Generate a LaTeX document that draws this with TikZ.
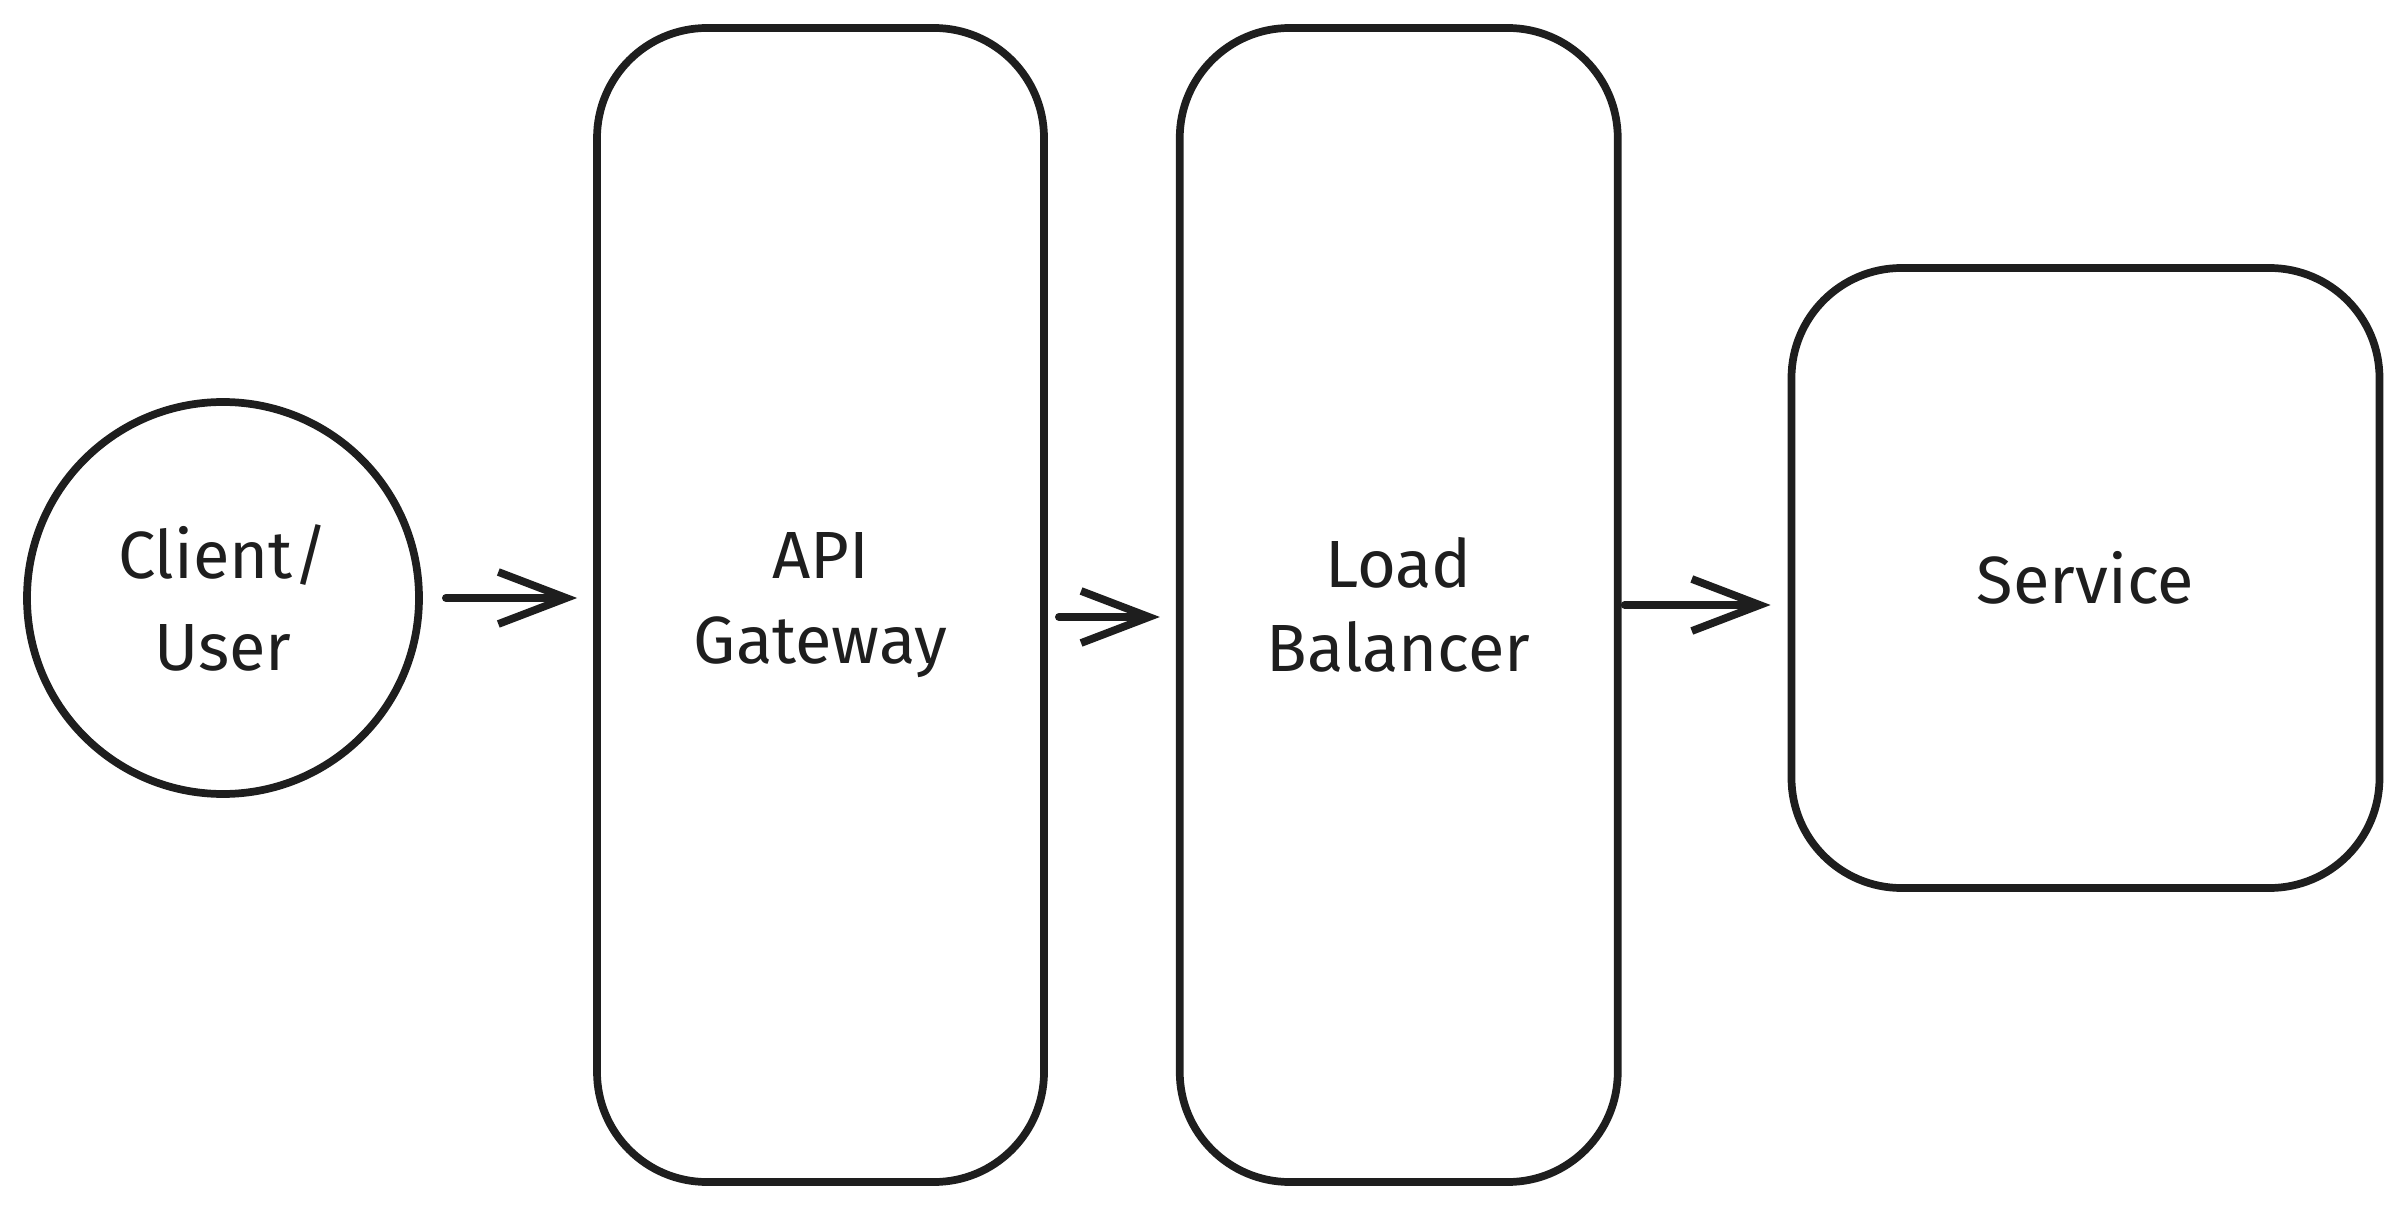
\documentclass[tikz,border=0pt]{standalone}
\usepackage{fontspec}
\setmainfont{Fira Sans}
\usetikzlibrary{shapes.geometric, arrows.meta, positioning}
\definecolor{ink}{HTML}{1E1E1E}
\tikzstyle{component} = [rectangle, rounded corners=1.1cm, draw=ink, line width=2.2pt, text centered, align=center, text=ink, font=\fontsize{19}{24}\selectfont]
\tikzstyle{endpoint} = [circle, minimum size=3.92cm, draw=ink, line width=2.2pt, text centered, align=center, text=ink, font=\fontsize{19}{26}\selectfont]
\tikzstyle{connector} = [draw=ink, line width=2.2pt, line cap=round, line join=round, -{Straight Barb[length=0.68cm, width=0.52cm]}]

\begin{document}
\begin{tikzpicture}[node distance=1.3cm]
        \useasboundingbox (0,0) rectangle (24,-12.13);
        \node (client) [endpoint] at (2.23,-5.98) {Client/\\User};
        \node (gateway) [component, minimum width=4.47cm, minimum height=11.54cm] at (8.205,-6.05) {API\\Gateway};
        \node (balancer) [component, minimum width=4.38cm, minimum height=11.54cm, right=1.28cm of gateway] {Load\\Balancer};
        \node (service) [component, minimum width=5.88cm, minimum height=6.2cm, right=1.66cm of balancer, yshift=0.27cm] {Service};
    
        \draw [connector, shorten <=0.23cm, shorten >=0.16cm] (client.east) -- (client.east -| gateway.west);
        \draw [connector, shorten <=0.11cm, shorten >=0.16cm] ([yshift=-0.12cm]gateway.east) -- ([yshift=-0.12cm]balancer.west);
        \draw [connector, shorten <=0.03cm, shorten >=0.17cm] (balancer.east) -- (balancer.east -| service.west);
    \end{tikzpicture}
\end{document}
